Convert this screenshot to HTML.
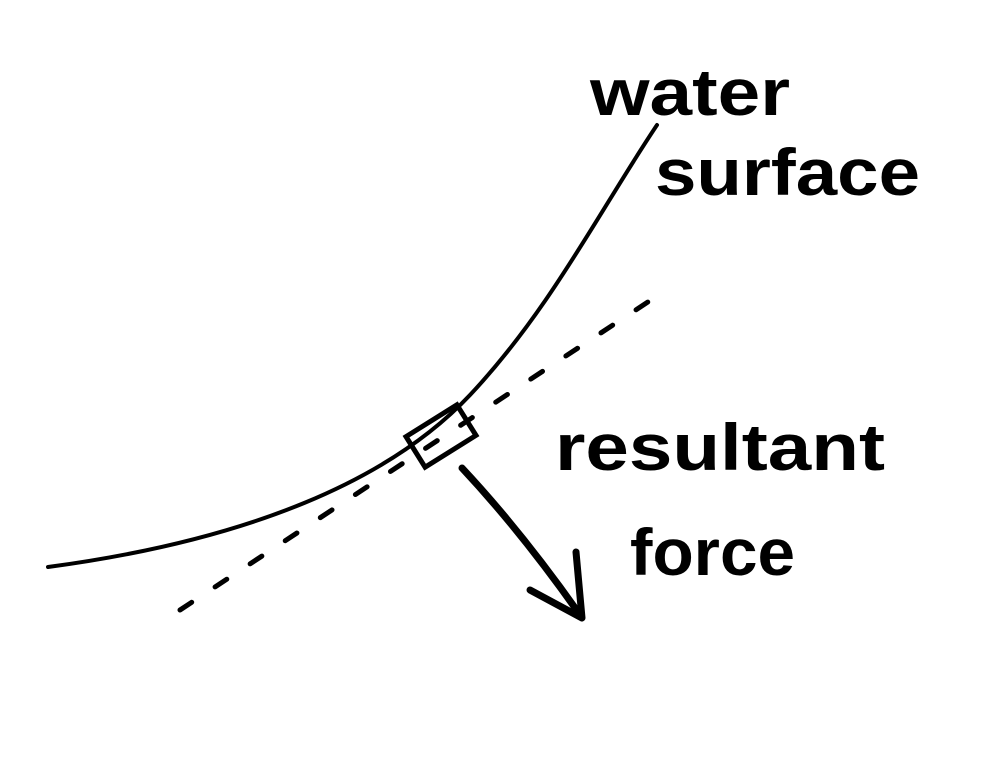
<!DOCTYPE html>
<html><head><meta charset="utf-8"><style>
html,body{margin:0;padding:0;background:#fff;}
svg{display:block;}
text{font-family:"Liberation Sans",sans-serif;font-weight:bold;fill:#000;}
</style></head><body>
<svg width="990" height="765" viewBox="0 0 990 765">
<rect width="990" height="765" fill="#fff"/>
<path d="M48 567 C 250 540, 390 480, 470 395 S 600 210, 657 125" fill="none" stroke="#000" stroke-width="4" stroke-linecap="round"/>
<line x1="180" y1="610" x2="657" y2="296" stroke="#000" stroke-width="5" stroke-dasharray="14 28" stroke-linecap="round"/>
<g transform="translate(441,436) rotate(-32)">
<rect x="-30" y="-18" width="60" height="36" fill="none" stroke="#000" stroke-width="5"/>
</g>
<g fill="none" stroke="#000" stroke-width="7" stroke-linecap="round" stroke-linejoin="round">
<path d="M462 468 Q 520 530, 578 612"/>
<path d="M530 590 L 582 618 L 576 552"/>
</g>
<text x="590" y="115" font-size="66" textLength="200" lengthAdjust="spacingAndGlyphs">water</text>
<text x="655" y="195" font-size="66" textLength="265" lengthAdjust="spacingAndGlyphs">surface</text>
<text x="555" y="470" font-size="66" textLength="330" lengthAdjust="spacingAndGlyphs">resultant</text>
<text x="630" y="575" font-size="66" textLength="165" lengthAdjust="spacingAndGlyphs">force</text>
</svg>
</body></html>
